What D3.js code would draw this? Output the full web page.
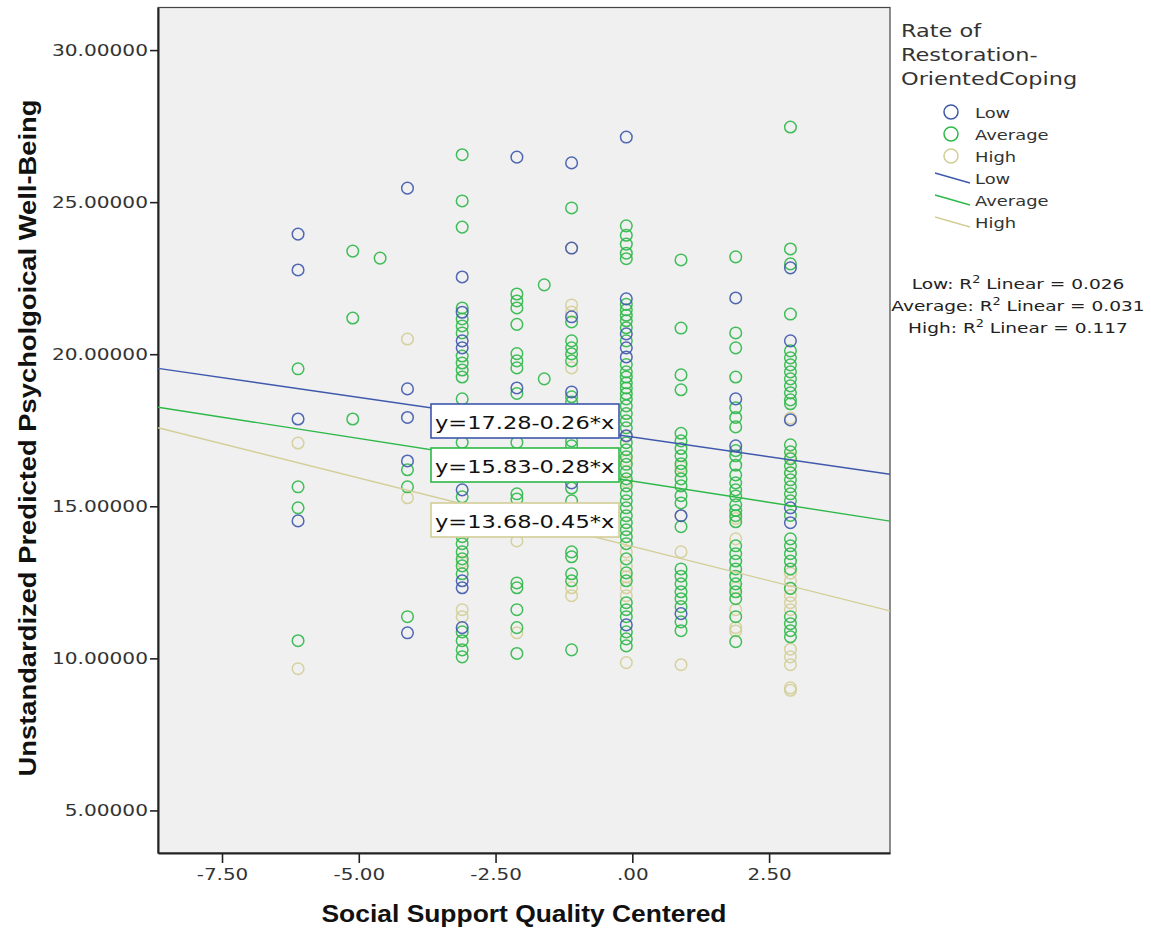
<!DOCTYPE html>
<html><head><meta charset="utf-8">
<script src="https://cdn.jsdelivr.net/npm/d3@7/dist/d3.min.js"></script>
<style>body{margin:0;background:#fff}svg{display:block}</style>
</head><body><svg id="c" width="1151" height="933"></svg>
<script>
// ---------- DATA ----------
const groups = ["Low", "Average", "High"];
const intercepts = [17.28, 15.83, 13.68];
const slopes = [-0.26, -0.28, -0.45];
const rSquared = ["0.026", "0.031", "0.117"];
const xTicks = [-7.5, -5, -2.5, 0, 2.5];
const xTickLabels = ["-7.50", "-5.00", "-2.50", ".00", "2.50"];
const yTicks = [5, 10, 15, 20, 25, 30];
const yTickLabels = ["5.00000", "10.00000", "15.00000", "20.00000", "25.00000", "30.00000"];

const lowPoints = [
 [-6.11,23.95],[-6.11,22.77],[-6.11,17.87],[-6.11,14.52],
 [-4.11,25.46],[-4.11,18.86],[-4.11,17.92],[-4.11,16.49],[-4.11,10.84],
 [-3.11,22.54],[-3.11,21.38],[-3.11,20.44],[-3.11,20.21],[-3.11,15.54],[-3.11,12.55],[-3.11,12.32],[-3.11,11.01],
 [-2.11,26.48],[-2.11,18.89],
 [-1.11,26.29],[-1.11,23.49],[-1.11,21.23],[-1.11,18.76],[-1.11,15.77],
 [-0.11,27.14],[-0.11,21.82],[-0.11,20.67],[-0.11,20.21],[-0.11,19.91],[-0.11,17.32],[-0.11,11.10],
 [0.89,14.69],[0.89,11.47],
 [1.89,21.85],[1.89,18.53],[1.89,16.99],
 [2.89,22.84],[2.89,20.44],[2.89,17.84],[2.89,14.95],[2.89,14.46]
];
const averagePoints = [
 [-6.11,19.52],[-6.11,15.64],[-6.11,14.95],[-6.11,10.58],
 [-5.11,23.39],[-5.11,21.19],[-5.11,17.87],
 [-4.61,23.16],
 [-4.11,16.20],[-4.11,15.64],[-4.11,11.37],
 [-3.11,26.56],[-3.11,25.04],[-3.11,24.18],[-3.11,21.52],[-3.11,21.16],[-3.11,20.93],[-3.11,20.70],[-3.11,19.94],[-3.11,19.71],[-3.11,19.48],[-3.11,19.25],[-3.11,18.53],[-3.11,17.10],[-3.11,15.31],[-3.11,14.00],[-3.11,13.77],[-3.11,13.50],[-3.11,13.27],[-3.11,13.04],[-3.11,12.78],[-3.11,10.87],[-3.11,10.58],[-3.11,10.28],[-3.11,10.05],
 [-2.11,21.98],[-2.11,21.75],[-2.11,21.52],[-2.11,20.98],[-2.11,20.02],[-2.11,19.78],[-2.11,19.55],[-2.11,18.71],[-2.11,17.10],[-2.11,15.41],[-2.11,15.24],[-2.11,12.48],[-2.11,12.32],[-2.11,11.60],[-2.11,11.01],[-2.11,10.16],
 [-1.61,22.28],[-1.61,19.19],
 [-1.11,24.81],[-1.11,21.06],[-1.11,20.44],[-1.11,20.21],[-1.11,20.01],[-1.11,19.78],[-1.11,18.60],[-1.11,18.43],[-1.11,17.15],[-1.11,16.99],[-1.11,15.60],[-1.11,15.18],[-1.11,14.23],[-1.11,13.50],[-1.11,13.34],[-1.11,12.78],[-1.11,12.55],[-1.11,10.28],
 [-0.11,24.22],[-0.11,23.91],[-0.11,23.62],[-0.11,23.32],[-0.11,23.14],[-0.11,21.64],[-0.11,21.46],[-0.11,21.28],[-0.11,21.10],[-0.11,20.87],[-0.11,20.44],[-0.11,19.66],[-0.11,19.42],[-0.11,19.25],[-0.11,19.06],[-0.11,18.89],[-0.11,18.70],[-0.11,18.53],[-0.11,18.30],[-0.11,18.05],[-0.11,17.81],[-0.11,17.58],[-0.11,17.09],[-0.11,16.86],[-0.11,16.63],[-0.11,16.38],[-0.11,16.13],[-0.11,15.90],[-0.11,15.67],[-0.11,15.41],[-0.11,15.18],[-0.11,14.95],[-0.11,14.69],[-0.11,14.46],[-0.11,14.23],[-0.11,14.00],[-0.11,13.77],[-0.11,13.27],[-0.11,12.81],[-0.11,12.55],[-0.11,11.83],[-0.11,11.60],[-0.11,11.37],[-0.11,10.87],[-0.11,10.64],[-0.11,10.41],
 [0.89,23.10],[0.89,20.86],[0.89,19.32],[0.89,18.83],[0.89,17.40],[0.89,17.15],[0.89,16.90],[0.89,16.66],[0.89,16.40],[0.89,16.16],[0.89,15.90],[0.89,15.67],[0.89,15.35],[0.89,15.11],[0.89,14.33],[0.89,12.94],[0.89,12.70],[0.89,12.45],[0.89,12.19],[0.89,11.96],[0.89,11.70],[0.89,11.20],[0.89,10.91],
 [1.89,23.20],[1.89,20.70],[1.89,20.21],[1.89,19.25],[1.89,18.24],[1.89,17.92],[1.89,17.61],[1.89,16.83],[1.89,16.66],[1.89,16.35],[1.89,16.03],[1.89,15.77],[1.89,15.54],[1.89,15.34],[1.89,15.05],[1.89,14.86],[1.89,14.69],[1.89,14.49],[1.89,13.70],[1.89,13.44],[1.89,13.20],[1.89,12.94],[1.89,12.70],[1.89,12.45],[1.89,12.19],[1.89,11.96],[1.89,11.37],[1.89,10.55],
 [2.89,27.47],[2.89,23.46],[2.89,22.97],[2.89,21.32],[2.89,20.11],[2.89,19.88],[2.89,19.65],[2.89,19.42],[2.89,19.19],[2.89,18.96],[2.89,18.73],[2.89,18.50],[2.89,18.37],[2.89,17.02],[2.89,16.79],[2.89,16.56],[2.89,16.33],[2.89,16.10],[2.89,15.87],[2.89,15.64],[2.89,15.41],[2.89,15.18],[2.89,14.70],[2.89,13.93],[2.89,13.70],[2.89,13.44],[2.89,13.20],[2.89,12.94],[2.89,12.30],[2.89,11.37],[2.89,11.14],[2.89,10.91],[2.89,10.71]
];
const highPoints = [
 [-6.11,17.08],[-6.11,9.66],
 [-4.11,20.50],[-4.11,15.28],
 [-3.11,13.17],[-3.11,11.60],[-3.11,11.37],
 [-2.11,13.86],[-2.11,10.84],
 [-1.11,23.49],[-1.11,21.62],[-1.11,21.39],[-1.11,19.55],[-1.11,12.32],[-1.11,12.06],
 [-0.11,17.30],[-0.11,16.50],[-0.11,15.80],[-0.11,13.50],[-0.11,13.04],[-0.11,12.68],[-0.11,12.32],[-0.11,12.06],[-0.11,9.86],
 [0.89,16.30],[0.89,14.69],[0.89,13.50],[0.89,9.79],
 [1.89,14.60],[1.89,13.93],[1.89,12.32],[1.89,11.60],[1.89,11.01],[1.89,10.90],
 [2.89,17.90],[2.89,16.60],[2.89,16.10],[2.89,12.80],[2.89,12.55],[2.89,12.30],[2.89,12.06],[2.89,11.83],[2.89,11.60],[2.89,10.30],[2.89,10.05],[2.89,9.79],[2.89,9.03],[2.89,8.95]
];

// ---------- STYLE / LAYOUT ----------
const colors = ["#3e58ac", "#2eb848", "#d3ce97"];
const pointSets = [lowPoints, averagePoints, highPoints];
const SX = 1.28;
const FONT = "DejaVu Sans, Verdana, sans-serif";
const plot = {left: 158, right: 890, top: 7.5, bottom: 853};

const svg = d3.select("#c");
const x = d3.scaleLinear().domain([-8.67, 4.71]).range([plot.left, plot.right]);
const y = d3.scaleLinear().domain([3.60, 31.40]).range([plot.bottom, plot.top]);

function txt(parent, px, py, str, o = {}) {
  const t = parent.append("text")
    .attr("transform", `translate(${px},${py}) scale(${o.sx || SX},1)`)
    .attr("font-family", o.family || FONT)
    .attr("font-size", o.size || 15)
    .attr("font-weight", o.weight || "normal")
    .attr("fill", o.fill || "#222")
    .attr("text-anchor", o.anchor || "start");
  if (str !== null) t.text(str);
  return t;
}

// plot background
svg.append("rect").attr("x", plot.left).attr("y", plot.top)
  .attr("width", plot.right - plot.left).attr("height", plot.bottom - plot.top)
  .attr("fill", "#f0f0f0").attr("stroke", "#444").attr("stroke-width", 1.2);

svg.append("clipPath").attr("id", "pc").append("rect")
  .attr("x", plot.left).attr("y", plot.top)
  .attr("width", plot.right - plot.left).attr("height", plot.bottom - plot.top);

// axes
const yAxis = svg.append("g").attr("transform", `translate(${plot.left},0)`)
  .call(d3.axisLeft(y).tickValues(yTicks).tickSize(8).tickSizeOuter(0).tickFormat((d, i) => yTickLabels[i]));
yAxis.select(".domain").attr("stroke", "#222").attr("stroke-width", 2);
yAxis.selectAll(".tick line").attr("stroke", "#222").attr("stroke-width", 1.6);
yAxis.selectAll(".tick text").attr("x", null).attr("dy", null)
  .attr("transform", `translate(-10,5.5) scale(1.3,1)`)
  .attr("font-family", FONT).attr("font-size", 15.5).attr("fill", "#333");

const xAxis = svg.append("g").attr("transform", `translate(0,${plot.bottom})`)
  .call(d3.axisBottom(x).tickValues(xTicks).tickSize(10).tickSizeOuter(0).tickFormat((d, i) => xTickLabels[i]));
xAxis.select(".domain").attr("stroke", "#222").attr("stroke-width", 2);
xAxis.selectAll(".tick line").attr("stroke", "#222").attr("stroke-width", 1.6);
xAxis.selectAll(".tick text").attr("y", null).attr("dy", null)
  .attr("transform", `translate(0,27) scale(1.33,1)`)
  .attr("font-family", FONT).attr("font-size", 15).attr("fill", "#333");

// points (High first, Low on top)
const pg = svg.append("g").attr("clip-path", "url(#pc)");
[2, 1, 0].forEach(gi => {
  pg.append("g").selectAll("circle").data(pointSets[gi]).join("circle")
    .attr("cx", d => x(d[0])).attr("cy", d => y(d[1])).attr("r", 5.8)
    .attr("fill", "none").attr("stroke", colors[gi]).attr("stroke-width", 1.5)
    .attr("stroke-opacity", 0.9);
});

// fit lines
const lg = svg.append("g").attr("clip-path", "url(#pc)");
const xd = x.domain();
groups.forEach((g, i) => {
  const pts = xd.map(v => [x(v), y(intercepts[i] + slopes[i] * v)]);
  lg.append("path").attr("d", d3.line()(pts)).attr("fill", "none")
    .attr("stroke", colors[i]).attr("stroke-width", 1.4);
});

// equation labels
const boxTops = [404, 448, 503];
groups.forEach((g, i) => {
  svg.append("rect").attr("x", 431).attr("y", boxTops[i]).attr("width", 188).attr("height", 34)
    .attr("fill", "#fff").attr("stroke", colors[i]).attr("stroke-width", 1.6);
  const s = Math.abs(slopes[i]).toFixed(2);
  txt(svg, 435, boxTops[i] + 25, `y=${intercepts[i].toFixed(2)}-${s}*x`, {size: 18, sx: 1.25, fill: "#111"});
});

// axis titles
svg.append("text").attr("x", 524).attr("y", 922).attr("text-anchor", "middle")
  .attr("font-family", "Liberation Sans, Arial, sans-serif").attr("font-weight", "bold")
  .attr("font-size", 23).attr("fill", "#111")
  .attr("textLength", 405).attr("lengthAdjust", "spacingAndGlyphs")
  .text("Social Support Quality Centered");
svg.append("text").attr("transform", "translate(36,438) rotate(-90)").attr("text-anchor", "middle")
  .attr("font-family", "Liberation Sans, Arial, sans-serif").attr("font-weight", "bold")
  .attr("font-size", 23).attr("fill", "#111")
  .attr("textLength", 677).attr("lengthAdjust", "spacingAndGlyphs")
  .text("Unstandardized Predicted Psycholgoical Well-Being");

// legend
const lgd = svg.append("g");
["Rate of", "Restoration-", "OrientedCoping"].forEach((s, i) =>
  txt(lgd, 901, 37 + i * 24, s, {size: 17, sx: 1.32, fill: "#333"}));
const markY = [112, 134, 156];
groups.forEach((g, i) => {
  lgd.append("circle").attr("cx", 951).attr("cy", markY[i]).attr("r", 7)
    .attr("fill", "none").attr("stroke", colors[i]).attr("stroke-width", 1.5);
  txt(lgd, 975, markY[i] + 5.5, g, {size: 14, fill: "#333"});
});
const lineY = [184, 206, 228];
groups.forEach((g, i) => {
  lgd.append("line").attr("x1", 935).attr("y1", lineY[i] - 11).attr("x2", 970).attr("y2", lineY[i] - 1)
    .attr("stroke", colors[i]).attr("stroke-width", 1.4);
  txt(lgd, 975, lineY[i], g, {size: 14, fill: "#333"});
});
const r2Y = [289, 311, 333];
groups.forEach((g, i) => {
  const t = txt(lgd, 1018, r2Y[i], null, {size: 14.5, anchor: "middle", fill: "#222"});
  t.append("tspan").text(`${g}: R`);
  t.append("tspan").attr("font-size", 10).attr("dy", -6).text("2");
  t.append("tspan").attr("dy", 6).text(` Linear = ${rSquared[i]}`);
});
</script></body></html>
